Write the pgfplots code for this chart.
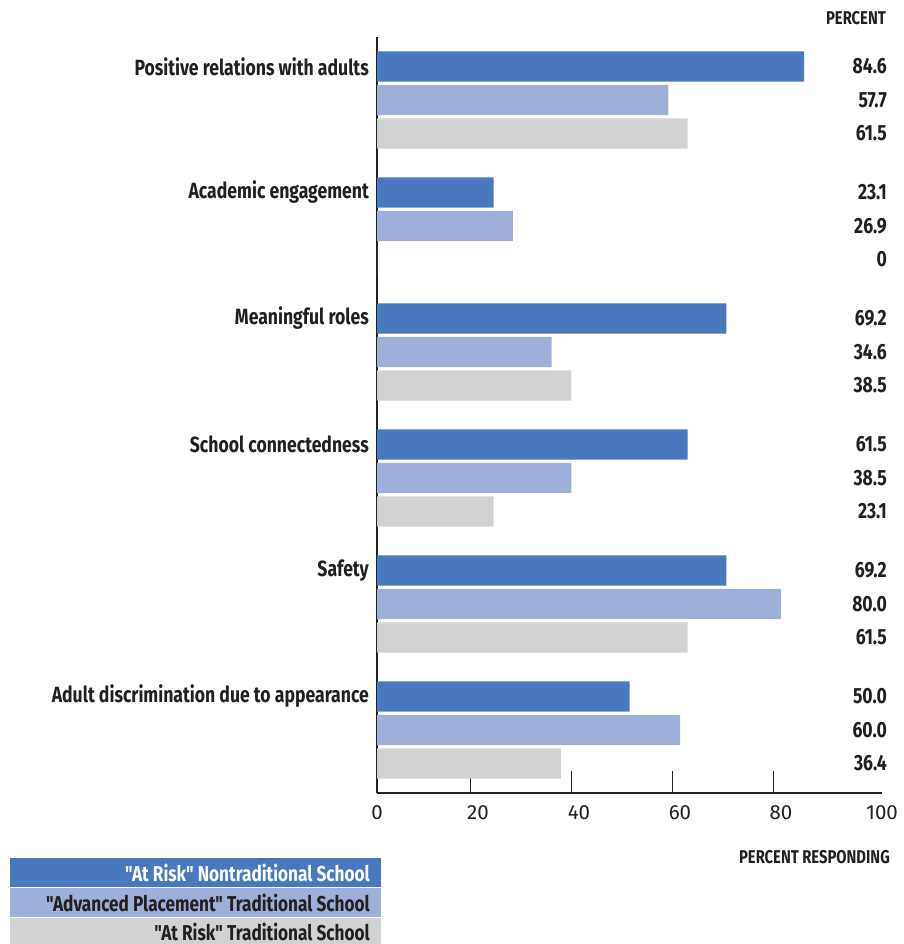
\documentclass[border=0pt]{standalone}
\usepackage{pgfplots}
\pgfplotsset{compat=1.18}
\usepackage{pgfplotstable}
\usepackage{fontspec}
\setmainfont{Fira Sans}
\newfontfamily\cf{Fira Sans}[FakeStretch=0.8]
\definecolor{cA}{HTML}{4878BE}
\definecolor{cB}{HTML}{9EAFD9}
\definecolor{cC}{HTML}{D1D2D4}
\definecolor{txt}{HTML}{231F20}

\pgfplotstableread{
y v lab
5.266 84.6 84.6
4.266 23.1 23.1
3.266 69.2 69.2
2.266 61.5 61.5
1.266 69.2 69.2
0.266 50.0 50.0
}\tA
\pgfplotstableread{
y v lab
5 57.7 57.7
4 26.9 26.9
3 34.6 34.6
2 38.5 38.5
1 80.0 80.0
0 60.0 60.0
}\tB
\pgfplotstableread{
y v lab
4.734 61.5 61.5
3.734 0 0
2.734 38.5 38.5
1.734 23.1 23.1
0.734 61.5 61.5
-0.266 36.4 36.4
}\tC

\pgfplotsset{vallab/.style={draw=none, nodes near coords, point meta=explicit symbolic,
  every node near coord/.style={anchor=east, xshift=5bp, inner sep=0pt, text=txt, font=\cf\bfseries\fontsize{22bp}{26bp}\selectfont}}}

\begin{document}
\begin{tikzpicture}
\useasboundingbox (0,0) rectangle (904bp,944bp);
\begin{axis}[
  at={(377bp,151bp)}, anchor=south west,
  scale only axis, width=505bp, height=756bp,
  xmin=0, xmax=100, ymin=-0.5, ymax=5.5,
  axis x line*=bottom, axis y line*=left,
  axis line style={txt, line width=1.4bp, -},
  xtick={0,20,40,60,80,100},
  major tick length=0pt,
  extra x ticks={18.5,38.5,58.5,78.5},
  extra x tick labels={},
  extra x tick style={major tick length=22bp, tick align=inside, tick style={draw=txt, line width=1.4bp}},
  xticklabel style={font=\fontsize{20.5bp}{24bp}\selectfont, text=txt, yshift=-9bp},
  /pgf/number format/assume math mode=true,
  ytick={5.266,4.266,3.266,2.266,1.266,0.266},
  yticklabels={Positive relations with adults, Academic engagement, Meaningful roles, School connectedness, Safety, Adult discrimination due to appearance},
  ytick style={draw=none},
  yticklabel style={font=\cf\bfseries\fontsize{22bp}{26bp}\selectfont, text=txt, anchor=east, inner sep=0pt, xshift=-8bp},
  clip=false,
]
\addplot[xbar, bar width=0.24, bar shift=0pt, fill=cA, draw=none] table[x=v, y=y] {\tA};
\addplot[xbar, bar width=0.24, bar shift=0pt, fill=cB, draw=none] table[x=v, y=y] {\tB};
\addplot[xbar, bar width=0.24, bar shift=0pt, fill=cC, draw=none] table[x=v, y=y] {\tC};
\addplot[vallab] table[x expr=100, y=y, meta=lab] {\tA};
\addplot[vallab] table[x expr=100, y=y, meta=lab] {\tB};
\addplot[vallab] table[x expr=100, y=y, meta=lab] {\tC};
\end{axis}
\node[anchor=east, text=txt, font=\cf\bfseries\fontsize{18.5bp}{22bp}\selectfont, inner sep=0pt] at (886bp,926bp) {PERCENT};
\node[anchor=east, text=txt, font=\cf\bfseries\fontsize{18.5bp}{22bp}\selectfont, inner sep=0pt] at (890bp,87bp) {PERCENT RESPONDING};
\fill[cA] (10bp,57bp) rectangle (381bp,86bp);
\fill[cB] (10bp,27bp) rectangle (381bp,56bp);
\fill[cC] (10bp,0bp) rectangle (381bp,26bp);
\node[anchor=east, text=white, font=\cf\bfseries\fontsize{21.5bp}{25bp}\selectfont, inner sep=0pt] at (370bp,71.5bp) {"At Risk" Nontraditional School};
\node[anchor=east, text=txt, font=\cf\bfseries\fontsize{21.5bp}{25bp}\selectfont, inner sep=0pt] at (370bp,41.5bp) {"Advanced Placement" Traditional School};
\node[anchor=east, text=txt, font=\cf\bfseries\fontsize{21.5bp}{25bp}\selectfont, inner sep=0pt] at (370bp,12bp) {"At Risk" Traditional School};
\end{tikzpicture}
\end{document}
